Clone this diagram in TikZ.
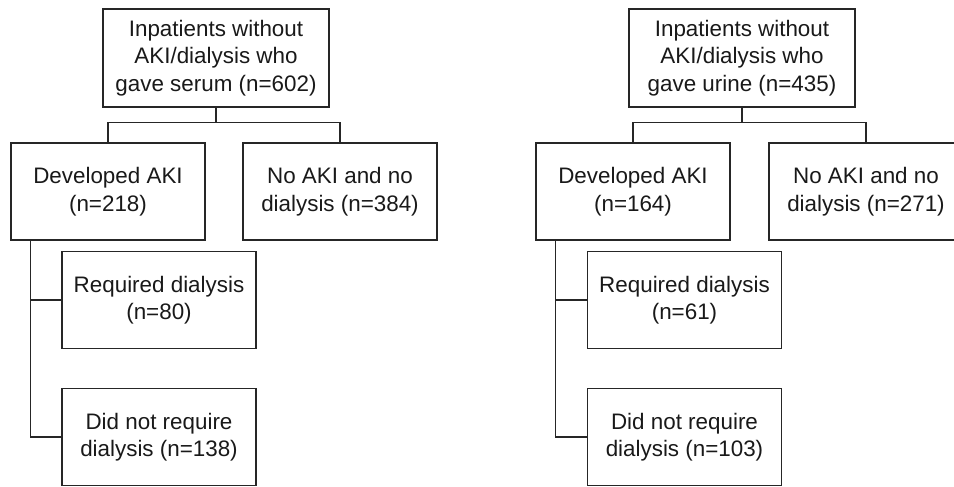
\documentclass[tikz,border=0pt]{standalone}
\usepackage{fontspec}
\setmainfont{Liberation Sans}
\usepackage{tikz}

\begin{document}
\begin{tikzpicture}[x=1pt,y=-1pt]
        \tikzstyle{flowbox}=[draw=black!85,line width=1.3pt,rectangle,align=center,inner sep=0pt,
            text=black!90,font=\fontsize{22.4}{27.5}\selectfont]
        \tikzstyle{topbox}=[flowbox,minimum width=226pt,minimum height=98pt]
        \tikzstyle{subbox}=[flowbox,minimum width=194pt,minimum height=97pt]
        \tikzstyle{link}=[draw=black!85,line width=1.3pt]

        \clip (0,0) rectangle (954,487);

        %% Serum tree
        \begin{scope}
            % Boxes
            \node[topbox] (top_s) at (216,58) {Inpatients without\\AKI/dialysis who\\gave serum (n=602)};
            \node[subbox] (aki_s) at (108,191.5) {Developed AKI\\(n=218)};
            \node[subbox] (noaki_s) at (340,191.5) {No AKI and no\\dialysis (n=384)};
            \node[subbox] (dial_s) at (159,300) {Required dialysis\\(n=80)};
            \node[subbox] (nodial_s) at (159,437) {Did not require\\dialysis (n=138)};

            % Connectors
            \draw[link] (top_s.south) -- ++(0,15) -| (aki_s.north);
            \draw[link] (top_s.south) -- ++(0,15) -| (noaki_s.north);
            \draw[link] ([xshift=20pt]aki_s.south west) |- (dial_s.west);
            \draw[link] ([xshift=20pt]aki_s.south west) |- (nodial_s.west);
        \end{scope}

        %% Urine tree
        \begin{scope}
            % Boxes
            \node[topbox] (top_u) at (742,58) {Inpatients without\\AKI/dialysis who\\gave urine (n=435)};
            \node[subbox] (aki_u) at (633,191.5) {Developed AKI\\(n=164)};
            \node[subbox] (noaki_u) at (866,191.5) {No AKI and no\\dialysis (n=271)};
            \node[subbox] (dial_u) at (684.5,300) {Required dialysis\\(n=61)};
            \node[subbox] (nodial_u) at (684.5,437) {Did not require\\dialysis (n=103)};

            % Connectors
            \draw[link] (top_u.south) -- ++(0,15) -| (aki_u.north);
            \draw[link] (top_u.south) -- ++(0,15) -| (noaki_u.north);
            \draw[link] ([xshift=20pt]aki_u.south west) |- (dial_u.west);
            \draw[link] ([xshift=20pt]aki_u.south west) |- (nodial_u.west);
        \end{scope}
    \end{tikzpicture}
\end{document}
